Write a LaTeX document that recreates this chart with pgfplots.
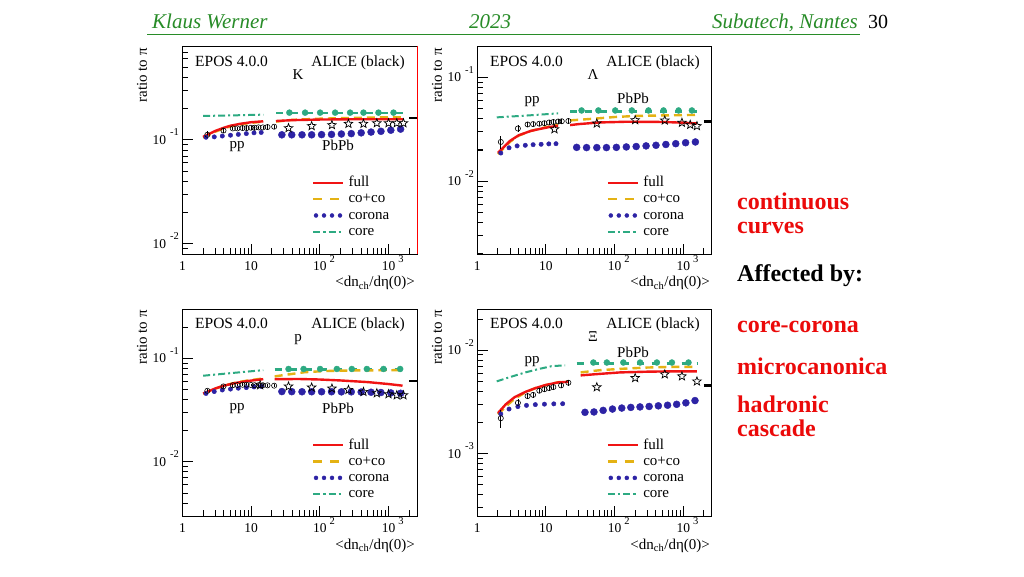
\documentclass[border=0pt]{standalone}
\usepackage{fontspec}
\setmainfont{Liberation Serif}
\usepackage{pgfplots}
\pgfplotsset{compat=1.18}
\definecolor{cfull}{RGB}{240,20,20}
\definecolor{ccoco}{RGB}{228,178,20}
\definecolor{ccor}{RGB}{45,35,165}
\definecolor{ccore}{RGB}{45,170,130}
\definecolor{hgreen}{RGB}{40,140,40}
\definecolor{sred}{RGB}{235,10,10}
\newcommand{\fs}[1]{\fontsize{#1}{#1}\selectfont}
\newcommand{\ye}[1]{10\hspace{4pt}\smash{\raisebox{8.5pt}{\fs{10.5}#1}}}
\newcommand{\xe}[1]{10\rlap{\hspace{3pt}\smash{\raisebox{8pt}{\fs{10.5}#1}}}}
\newcommand{\xlab}{\pgfmathtruncatemacro{\kwe}{round(\tick/ln(10))}\ifnum\kwe=0 1\else\ifnum\kwe=1 10\else\xe{\kwe}\fi\fi}
\newcommand{\ylab}{\pgfmathtruncatemacro{\kwe}{round(\tick/ln(10))}\ye{\kwe}}
\newcommand{\kwxticks}[1]{%
  \pgfplotsinvokeforeach{2,3,4,5,6,7,8,9,20,30,40,50,60,70,80,90,200,300,400,500,600,700,800,900,2000}{\draw[black,line width=1pt] (axis cs:##1,#1) -- ++(0pt,5.8pt);}%
  \pgfplotsinvokeforeach{10,100,1000}{\draw[black,line width=1pt] (axis cs:##1,#1) -- ++(0pt,10.5pt);}}
\newcommand{\kwyticks}[2]{%
  \pgfplotsinvokeforeach{#1}{\draw[black,line width=1pt] (axis cs:1,##1) -- ++(5.8pt,0pt);}%
  \pgfplotsinvokeforeach{#2}{\draw[black,line width=1pt] (axis cs:1,##1) -- ++(10.5pt,0pt);}}
\pgfdeclareplotmark{ostar}{%
  \pgfpathmoveto{\pgfpointpolar{90}{\pgfplotmarksize}}%
  \pgfpathlineto{\pgfpointpolar{126}{0.42\pgfplotmarksize}}%
  \pgfpathlineto{\pgfpointpolar{162}{\pgfplotmarksize}}%
  \pgfpathlineto{\pgfpointpolar{198}{0.42\pgfplotmarksize}}%
  \pgfpathlineto{\pgfpointpolar{234}{\pgfplotmarksize}}%
  \pgfpathlineto{\pgfpointpolar{270}{0.42\pgfplotmarksize}}%
  \pgfpathlineto{\pgfpointpolar{306}{\pgfplotmarksize}}%
  \pgfpathlineto{\pgfpointpolar{342}{0.42\pgfplotmarksize}}%
  \pgfpathlineto{\pgfpointpolar{18}{\pgfplotmarksize}}%
  \pgfpathlineto{\pgfpointpolar{54}{0.42\pgfplotmarksize}}%
  \pgfpathclose\pgfusepathqstroke}
\pgfplotsset{
  kwfull/.style={color=cfull, line width=2.4pt, no markers, forget plot},
  kwcoco/.style={color=ccoco, line width=2.4pt, no markers, dash pattern=on 8pt off 5pt, forget plot},
  kwcorpp/.style={color=ccor, only marks, mark=*, mark size=2.2pt, forget plot},
  kwcorAA/.style={color=ccor, only marks, mark=*, mark size=3.5pt, forget plot},
  kwcore/.style={color=ccore, line width=2pt, no markers, dash pattern=on 7pt off 3pt on 2pt off 3pt, forget plot},
  kwcoreAA/.style={color=ccore, line width=2.6pt, no markers, dash pattern=on 7pt off 8pt, forget plot},
  kwcoremk/.style={color=ccore, only marks, mark=*, mark size=3pt, forget plot},
  kwalpp/.style={black, only marks, mark=o, mark size=2.6pt, line width=0.6pt, forget plot,
    error bars/y dir=both, error bars/y explicit relative, error bars/error mark=none,
    error bars/error bar style={line width=0.7pt, black}},
  kwalAA/.style={black, only marks, mark=ostar, mark size=4.5pt, line width=0.7pt, forget plot},
  kwgc/.style={black, line width=2.6pt, no markers, forget plot},
}
\newcommand{\mylegend}{%
  \addlegendimage{legend image code/.code={\draw[cfull,line width=2.2pt] (0pt,0pt)--(30pt,0pt);}}
  \addlegendentry{full}
  \addlegendimage{legend image code/.code={\draw[ccoco,line width=2.2pt,dash pattern=on 9pt off 8pt] (0pt,0pt)--(30pt,0pt);}}
  \addlegendentry{co+co}
  \addlegendimage{legend image code/.code={\fill[ccor] (3pt,0pt) circle (2pt) (11pt,0pt) circle (2pt) (19pt,0pt) circle (2pt) (27pt,0pt) circle (2pt);}}
  \addlegendentry{corona}
  \addlegendimage{legend image code/.code={\draw[ccore,line width=2.2pt,dash pattern=on 7pt off 3pt on 2.5pt off 3pt] (0pt,0pt)--(30pt,0pt);}}
  \addlegendentry{core}
}
\begin{document}
\begin{tikzpicture}
\fill[white] (0,0) rectangle (1024pt,576pt);
\path[use as bounding box] (0,0) rectangle (1024pt,576pt);

% ---------- Panel 1: K ----------
\begin{axis}[at={(182.5pt,322pt)}, anchor=south west, scale only axis, width=234.5pt, height=208pt,
  xmode=log, ymode=log, xmin=1, xmax=2600, ymin=0.008, ymax=0.8,
  xtick pos=left, ytick pos=left, tick align=inside,
  major tick length=10.5pt, minor tick length=5.8pt,
  axis line style={black, line width=1pt}, tick style={black, line width=1pt},
  xticklabel={\xlab}, yticklabel={\ylab},
  tick label style={font=\fs{13.5}}, xticklabel style={yshift=-4pt},
  legend style={at={(0.551,0.382)}, anchor=north west, draw=none, fill=none,
    inner sep=0pt, row sep=0pt, column sep=3pt, font=\fs{15},
    nodes={inner sep=1.4pt, text height=10.5pt, text depth=3pt}},
  legend cell align=left]
\mylegend
\addplot[kwcore] coordinates {(2,0.170) (5,0.172) (15,0.175)};
\addplot[kwcoreAA] coordinates {(23,0.181) (1650,0.181)};
\addplot[kwcoremk] coordinates {(36,0.183) (61,0.183) (101,0.183) (167,0.183) (276,0.183) (432,0.183) (714,0.183) (1183,0.183)};
\addplot[kwcorpp] coordinates {(2.2,0.106) (2.9,0.107) (3.8,0.109) (5,0.111) (6.5,0.113) (8.5,0.115) (11,0.117) (14,0.118)};
\addplot[kwcorAA] coordinates {(28,0.112) (39,0.112) (55,0.112) (76,0.112) (106,0.1125) (148,0.113) (206,0.114) (287,0.115) (400,0.117) (557,0.119) (776,0.121) (1080,0.124) (1500,0.127)};
\addplot[kwcoco] coordinates {(2,0.105) (3,0.120) (4,0.129) (5,0.135) (7,0.141) (10,0.146) (15,0.150)};
\addplot[kwfull] coordinates {(2,0.107) (3,0.122) (4,0.131) (5,0.137) (7,0.143) (10,0.148) (15,0.151)};
\addplot[kwcoco] coordinates {(23,0.150) (40,0.156) (100,0.160) (300,0.163) (1000,0.165) (1650,0.165)};
\addplot[kwfull] coordinates {(23,0.152) (40,0.155) (100,0.157) (300,0.158) (1000,0.158) (1650,0.158)};
\addplot[kwalpp] coordinates {(2.3,0.112) +- (0,0.08) (3.95,0.123) +- (0,0.05) (5.4,0.129) +- (0,0.04) (6.3,0.129) +- (0,0.04) (7.5,0.130) +- (0,0.04) (8.6,0.130) +- (0,0.04) (9.9,0.131) +- (0,0.04) (11.2,0.131) +- (0,0.04) (12.8,0.132) +- (0,0.04) (14.8,0.132) +- (0,0.04) (17.3,0.133) +- (0,0.04) (21.6,0.134) +- (0,0.04)};
\addplot[kwalAA] coordinates {(35,0.130) (76,0.136) (150,0.139) (261,0.143) (432,0.143) (676,0.145) (1000,0.145) (1320,0.145) (1650,0.145)};
\addplot[kwgc] coordinates {(2000,0.162) (2600,0.162)};
\kwxticks{0.008}
\kwyticks{0.009,0.02,0.03,0.04,0.05,0.06,0.07,0.08,0.09,0.2,0.3,0.4,0.5,0.6,0.7}{0.01,0.1}
\end{axis}

% ---------- Panel 2: Lambda ----------
\begin{axis}[at={(477.3pt,322pt)}, anchor=south west, scale only axis, width=234.5pt, height=208pt,
  xmode=log, ymode=log, xmin=1, xmax=2600, ymin=0.002, ymax=0.2,
  xtick pos=left, ytick pos=left, tick align=inside,
  major tick length=10.5pt, minor tick length=5.8pt,
  axis line style={black, line width=1pt}, tick style={black, line width=1pt},
  xticklabel={\xlab}, yticklabel={\ylab},
  tick label style={font=\fs{13.5}}, xticklabel style={yshift=-4pt},
  legend style={at={(0.551,0.382)}, anchor=north west, draw=none, fill=none,
    inner sep=0pt, row sep=0pt, column sep=3pt, font=\fs{15},
    nodes={inner sep=1.4pt, text height=10.5pt, text depth=3pt}},
  legend cell align=left]
\mylegend
\addplot[kwcore] coordinates {(1.92,0.0412) (5,0.0428) (15,0.0450)};
\addplot[kwcoreAA] coordinates {(22.5,0.0472) (1580,0.0472)};
\addplot[kwcoremk] coordinates {(33,0.048) (58,0.048) (102,0.048) (178,0.048) (311,0.048) (515,0.048) (853,0.048) (1334,0.048)};
\addplot[kwcorpp] coordinates {(2.2,0.0187) (2.9,0.0210) (3.8,0.0219) (5,0.0222) (6.5,0.0225) (8.5,0.0227) (11,0.0229) (14,0.0230)};
\addplot[kwcorAA] coordinates {(28,0.0212) (39,0.0211) (55,0.0211) (76,0.0211) (106,0.0212) (148,0.0214) (206,0.0216) (287,0.0219) (400,0.0222) (557,0.0226) (776,0.0230) (1080,0.0235) (1500,0.0239)};
\addplot[kwcoco] coordinates {(2,0.0183) (3,0.0240) (4,0.0275) (6,0.0305) (8,0.0320) (11,0.0336) (15,0.0348)};
\addplot[kwfull] coordinates {(2,0.0188) (3,0.0245) (4,0.0277) (6,0.0305) (8,0.0318) (11,0.0332) (15,0.0342)};
\addplot[kwcoco] coordinates {(22.5,0.0385) (50,0.0400) (100,0.0415) (200,0.0425) (500,0.0430) (1580,0.0435)};
\addplot[kwfull] coordinates {(22.5,0.0347) (30,0.0355) (60,0.0368) (150,0.0374) (500,0.0372) (1000,0.0366) (1580,0.0360)};
\addplot[kwalpp] coordinates {(2.2,0.0239) +- (0,0.15) (3.9,0.0322) +- (0,0.08) (5.4,0.0352) +- (0,0.05) (6.5,0.0355) +- (0,0.05) (8.0,0.0358) +- (0,0.05) (9.5,0.0362) +- (0,0.05) (11.1,0.0368) +- (0,0.05) (12.8,0.0372) +- (0,0.05) (15.1,0.0376) +- (0,0.05) (17,0.0378) +- (0,0.05) (21.2,0.0380) +- (0,0.05)};
\addplot[kwalAA] coordinates {(13.3,0.0317) (55,0.036) (199,0.0388) (537,0.0385) (955,0.0366) (1260,0.035) (1580,0.034)};
\addplot[kwgc] coordinates {(2000,0.0377) (2600,0.0377)};
\kwxticks{0.002}
\kwyticks{0.003,0.004,0.005,0.006,0.007,0.008,0.009,0.02,0.03,0.04,0.05,0.06,0.07,0.08,0.09}{0.01,0.1}
\end{axis}

% ---------- Panel 3: p ----------
\begin{axis}[at={(182.5pt,60pt)}, anchor=south west, scale only axis, width=234.5pt, height=207pt,
  xmode=log, ymode=log, xmin=1, xmax=2600, ymin=0.003, ymax=0.3,
  xtick pos=left, ytick pos=left, tick align=inside,
  major tick length=10.5pt, minor tick length=5.8pt,
  axis line style={black, line width=1pt}, tick style={black, line width=1pt},
  xticklabel={\xlab}, yticklabel={\ylab},
  tick label style={font=\fs{13.5}}, xticklabel style={yshift=-4pt},
  legend style={at={(0.551,0.382)}, anchor=north west, draw=none, fill=none,
    inner sep=0pt, row sep=0pt, column sep=3pt, font=\fs{15},
    nodes={inner sep=1.4pt, text height=10.5pt, text depth=3pt}},
  legend cell align=left]
\mylegend
\addplot[kwcore] coordinates {(2,0.068) (5,0.072) (15,0.077)};
\addplot[kwcoreAA] coordinates {(22,0.0785) (1600,0.0785)};
\addplot[kwcoremk] coordinates {(35,0.079) (58,0.079) (101,0.079) (177,0.079) (292,0.079) (484,0.079) (846,0.079) (1480,0.079)};
\addplot[kwcorpp] coordinates {(2.2,0.0458) (2.9,0.0478) (3.8,0.0495) (5,0.0505) (6.5,0.0515) (8.5,0.0522) (11,0.0530) (14,0.0536)};
\addplot[kwcorAA] coordinates {(28,0.0478) (39,0.0477) (55,0.0476) (76,0.0476) (106,0.0476) (148,0.0476) (206,0.0475) (287,0.0475) (400,0.0473) (557,0.0471) (776,0.0468) (1080,0.0464) (1500,0.0460)};
\addplot[kwcoco] coordinates {(2,0.0455) (3,0.0510) (4,0.0545) (6,0.0585) (9,0.0612) (15,0.0640)};
\addplot[kwfull] coordinates {(2,0.0458) (3,0.0512) (4,0.0545) (6,0.0580) (9,0.0605) (15,0.0630)};
\addplot[kwcoco] coordinates {(22,0.067) (35,0.070) (60,0.0735) (120,0.0755) (300,0.0765) (1600,0.077)};
\addplot[kwfull] coordinates {(22,0.0630) (50,0.0632) (100,0.0625) (200,0.0612) (500,0.0590) (1000,0.0565) (1600,0.0545)};
\addplot[kwalpp] coordinates {(2.3,0.0486) +- (0,0.04) (3.95,0.0536) +- (0,0.04) (5.4,0.055) +- (0,0.03) (6.3,0.0553) +- (0,0.03) (7.5,0.0556) +- (0,0.03) (8.6,0.0556) +- (0,0.03) (9.9,0.0554) +- (0,0.03) (11.2,0.0551) +- (0,0.03) (12.8,0.0551) +- (0,0.03) (14.8,0.0550) +- (0,0.03) (17.3,0.0549) +- (0,0.03) (21.6,0.0545) +- (0,0.03)};
\addplot[kwalAA] coordinates {(13.5,0.0551) (35,0.0536) (76,0.0524) (150,0.0512) (261,0.0497) (432,0.0475) (676,0.0461) (1000,0.0451) (1320,0.0441) (1650,0.0441)};
\addplot[kwgc] coordinates {(2000,0.0603) (2600,0.0603)};
\kwxticks{0.003}
\kwyticks{0.004,0.005,0.006,0.007,0.008,0.009,0.02,0.03,0.04,0.05,0.06,0.07,0.08,0.09,0.2}{0.01,0.1}
\end{axis}

% ---------- Panel 4: Xi ----------
\begin{axis}[at={(477.3pt,60pt)}, anchor=south west, scale only axis, width=234.5pt, height=207pt,
  xmode=log, ymode=log, xmin=1, xmax=2600, ymin=0.00025, ymax=0.025,
  xtick pos=left, ytick pos=left, tick align=inside,
  major tick length=10.5pt, minor tick length=5.8pt,
  axis line style={black, line width=1pt}, tick style={black, line width=1pt},
  xticklabel={\xlab}, yticklabel={\ylab},
  tick label style={font=\fs{13.5}}, xticklabel style={yshift=-4pt},
  legend style={at={(0.551,0.382)}, anchor=north west, draw=none, fill=none,
    inner sep=0pt, row sep=0pt, column sep=3pt, font=\fs{15},
    nodes={inner sep=1.4pt, text height=10.5pt, text depth=3pt}},
  legend cell align=left]
\mylegend
\addplot[kwcore] coordinates {(1.92,0.0050) (3,0.0055) (5,0.0061) (8,0.0066) (12,0.0070) (19,0.00715)};
\addplot[kwcoreAA] coordinates {(28,0.0074) (1580,0.0074)};
\addplot[kwcoremk] coordinates {(49,0.0076) (77,0.0076) (134,0.0076) (235,0.0076) (412,0.0076) (682,0.0076) (1190,0.0076)};
\addplot[kwcorpp] coordinates {(2.2,0.00242) (2.9,0.0027) (3.9,0.00285) (5.2,0.00293) (7,0.00298) (9.5,0.00301) (13,0.00303) (17.5,0.00304)};
\addplot[kwcorAA] coordinates {(37,0.00251) (50,0.00253) (68,0.00262) (93,0.00270) (127,0.00276) (172,0.00280) (234,0.00283) (318,0.00286) (433,0.00290) (590,0.00294) (800,0.00300) (1090,0.00310) (1480,0.00326)};
\addplot[kwcoco] coordinates {(2,0.00240) (2.6,0.00285) (3.5,0.00340) (5,0.0039) (7,0.0043) (10,0.0046) (15,0.0049) (21,0.0050)};
\addplot[kwfull] coordinates {(2,0.00247) (2.6,0.00300) (3.5,0.00352) (5,0.00395) (7,0.0043) (10,0.00462) (15,0.00488) (21,0.00495)};
\addplot[kwcoco] coordinates {(32,0.0061) (60,0.0064) (120,0.0066) (300,0.0068) (700,0.0069) (1580,0.0069)};
\addplot[kwfull] coordinates {(32,0.00571) (60,0.0059) (120,0.0061) (300,0.0062) (700,0.00625) (1580,0.00625)};
\addplot[kwalpp] coordinates {(2.2,0.0022) +- (0,0.2) (3.9,0.0031) +- (0,0.1) (5.4,0.0036) +- (0,0.06) (6.5,0.0037) +- (0,0.06) (8.0,0.00406) +- (0,0.06) (9.5,0.0042) +- (0,0.06) (11.1,0.0043) +- (0,0.06) (12.8,0.0044) +- (0,0.06) (16.6,0.00457) +- (0,0.06) (21.2,0.00485) +- (0,0.06)};
\addplot[kwalAA] coordinates {(55,0.00439) (199,0.00539) (537,0.00585) (955,0.0056) (1580,0.0050)};
\addplot[kwgc] coordinates {(2000,0.00456) (2600,0.00456)};
\kwxticks{0.00025}
\kwyticks{0.0003,0.0004,0.0005,0.0006,0.0007,0.0008,0.0009,0.002,0.003,0.004,0.005,0.006,0.007,0.008,0.009,0.02}{0.001,0.01}
\end{axis}

\begin{scope}[x=1pt, y=-1pt, yshift=576pt]
% header
\node[anchor=base west, font=\fs{21}\itshape, text=hgreen, inner sep=0pt] at (152,29) {Klaus Werner};
\node[anchor=base, font=\fs{21}\itshape, text=hgreen, inner sep=0pt] at (490,29) {2023};
\node[anchor=base east, font=\fs{21}\itshape, text=hgreen, inner sep=0pt] at (858,29) {Subatech, Nantes};
\node[anchor=base west, font=\fs{20}, inner sep=0pt] at (868,29) {30};
\draw[hgreen, line width=1.2pt] (147,34.5) -- (860,34.5);
\draw[red, line width=0.8pt] (417,46) -- (417,254);
% right-hand text
\begin{scope}[every node/.style={anchor=base west, font=\fs{24}\bfseries, inner sep=0pt}]
\node[text=sred] at (737,210) {continuous};
\node[text=sred] at (737,234) {curves};
\node at (737,281.7) {Affected by:};
\node[text=sred] at (737,332.7) {core-corona};
\node[text=sred] at (737,374) {microcanonica};
\node[text=sred] at (737,412) {hadronic};
\node[text=sred] at (737,436) {cascade};
\end{scope}
% panel texts
\begin{scope}[every node/.style={inner sep=0pt, font=\fs{15.5}}]
\foreach \dx/\dy/\pl in {0/0/K, 295/0/Λ, 0/262/p, 295/262/Ξ}{
  \node[anchor=base west] at (195+\dx,66.7+\dy) {EPOS 4.0.0};
  \node[anchor=base east] at (405+\dx,66.7+\dy) {ALICE (black)};
  \node[anchor=base, font=\fs{15}] at (298+\dx,79.8+\dy) {\pl};
  \node[anchor=base east, font=\fs{15}] at (415+\dx,287+\dy) {\textless dn\textsubscript{ch}/dη(0)\textgreater};
  \node[rotate=90, anchor=east, font=\fs{15}] at (142+\dx,48+\dy) {ratio to π};
}
\node[anchor=base, font=\fs{15}] at (237,148.3) {pp};
\node[anchor=base, font=\fs{15}] at (338,151) {PbPb};
\node[anchor=base, font=\fs{15}] at (532,103.3) {pp};
\node[anchor=base, font=\fs{15}] at (633,103.3) {PbPb};
\node[anchor=base, font=\fs{15}] at (237,410) {pp};
\node[anchor=base, font=\fs{15}] at (338,413.3) {PbPb};
\node[anchor=base, font=\fs{15}] at (532,363.3) {pp};
\node[anchor=base, font=\fs{15}] at (633,357.3) {PbPb};
\end{scope}
\end{scope}
\end{tikzpicture}
\end{document}
